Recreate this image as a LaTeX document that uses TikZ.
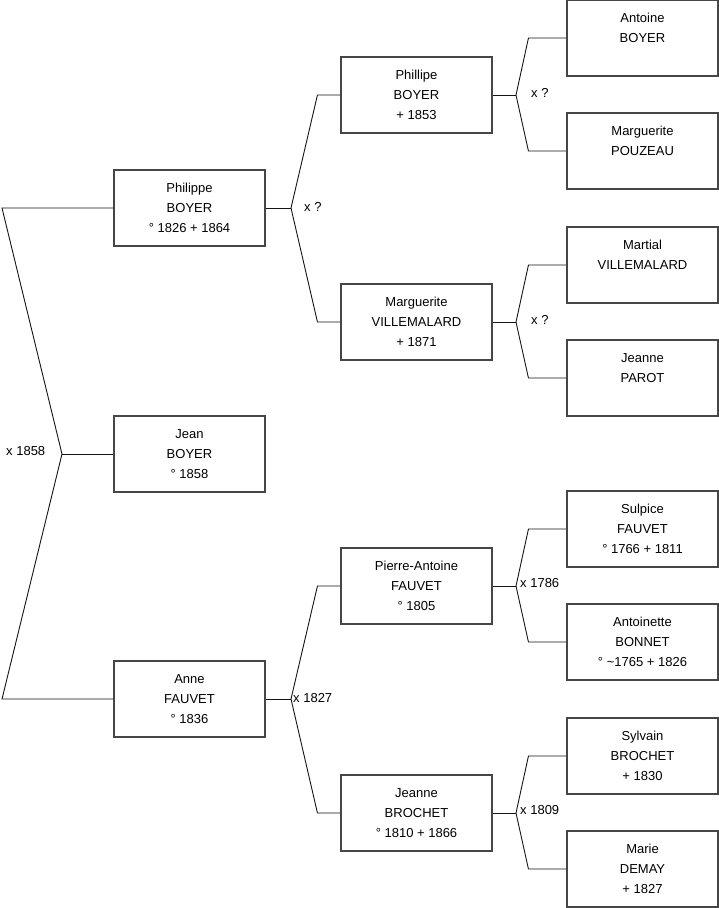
\documentclass[tikz,border=0pt]{standalone}
\usepackage{fontspec}
\setmainfont{Liberation Sans}
\definecolor{boxline}{RGB}{70,70,70}
\definecolor{linkline}{RGB}{20,20,20}
\begin{document}
\begin{tikzpicture}[x=1pt,y=-1pt,
  person/.style={draw=boxline, line width=1.1pt, rectangle, minimum width=151pt, minimum height=76pt, inner sep=0pt, align=center, font=\fontsize{13}{20}\selectfont},
  link/.style={draw=linkline, line width=0.9pt},
  mlabel/.style={anchor=west, inner sep=0pt, font=\fontsize{13}{15}\selectfont}]
\useasboundingbox (0,0) rectangle (719,908);
% generation 1
\node[person] (philippe) at (189.5,208) {Philippe\\BOYER\\° 1826 + 1864};
\node[person] (jean) at (189.5,454) {Jean\\BOYER\\° 1858};
\node[person] (anne) at (189.5,699) {Anne\\FAUVET\\° 1836};
% generation 2
\node[person] (phillipe) at (416.5,95) {Phillipe\\BOYER\\+ 1853};
\node[person] (margv) at (416.5,322) {Marguerite\\VILLEMALARD\\+ 1871};
\node[person] (pierre) at (416.5,586) {Pierre-Antoine\\FAUVET\\° 1805};
\node[person] (jeanne) at (416.5,813) {Jeanne\\BROCHET\\° 1810 + 1866};
% generation 3
\node[person] (antoine) at (642.5,38) {Antoine\\BOYER\\~};
\node[person] (margp) at (642.5,151) {Marguerite\\POUZEAU\\~};
\node[person] (martial) at (642.5,265) {Martial\\VILLEMALARD\\~};
\node[person] (jparot) at (642.5,378) {Jeanne\\PAROT\\~};
\node[person] (sulpice) at (642.5,529) {Sulpice\\FAUVET\\° 1766 + 1811};
\node[person] (antoinette) at (642.5,642) {Antoinette\\BONNET\\° \char`~1765 + 1826};
\node[person] (sylvain) at (642.5,756) {Sylvain\\BROCHET\\+ 1830};
\node[person] (marie) at (642.5,869) {Marie\\DEMAY\\+ 1827};
% junctions
\coordinate (j0) at (62,454);
\coordinate (t0) at (2,208);
\coordinate (b0) at (2,699);
\coordinate (j1) at (291,208);
\coordinate (j2) at (291,699);
\coordinate (j3) at (516,95);
\coordinate (j4) at (516,322);
\coordinate (j5) at (516,586);
\coordinate (j6) at (516,813);
% connectors
\draw[link] (philippe.west) -- (t0) -- (j0) -- (b0) -- (anne.west);
\draw[link] (j0) -- (jean.west);
\foreach \p/\j/\a/\b in {philippe/j1/phillipe/margv, anne/j2/pierre/jeanne}{
  \draw[link] (\p.east) -- (\j);
  \draw[link] (\a.west) -- ([xshift=-23pt]\a.west) -- (\j) -- ([xshift=-23pt]\b.west) -- (\b.west);
}
\foreach \p/\j/\a/\b in {phillipe/j3/antoine/margp, margv/j4/martial/jparot, pierre/j5/sulpice/antoinette, jeanne/j6/sylvain/marie}{
  \draw[link] (\p.east) -- (\j);
  \draw[link] (\a.west) -- ([xshift=-38pt]\a.west) -- (\j) -- ([xshift=-38pt]\b.west) -- (\b.west);
}
% marriage labels
\node[mlabel] (m0) at (6,451) {x 1858};
\node[mlabel] (m1) at (304,207) {x ?};
\node[mlabel] (m2) at (293,698) {x 1827};
\node[mlabel] (m3) at (531,93) {x ?};
\node[mlabel] (m4) at (531,320) {x ?};
\node[mlabel] (m5) at (520,583) {x 1786};
\node[mlabel] (m6) at (520,810) {x 1809};
\end{tikzpicture}
\end{document}
